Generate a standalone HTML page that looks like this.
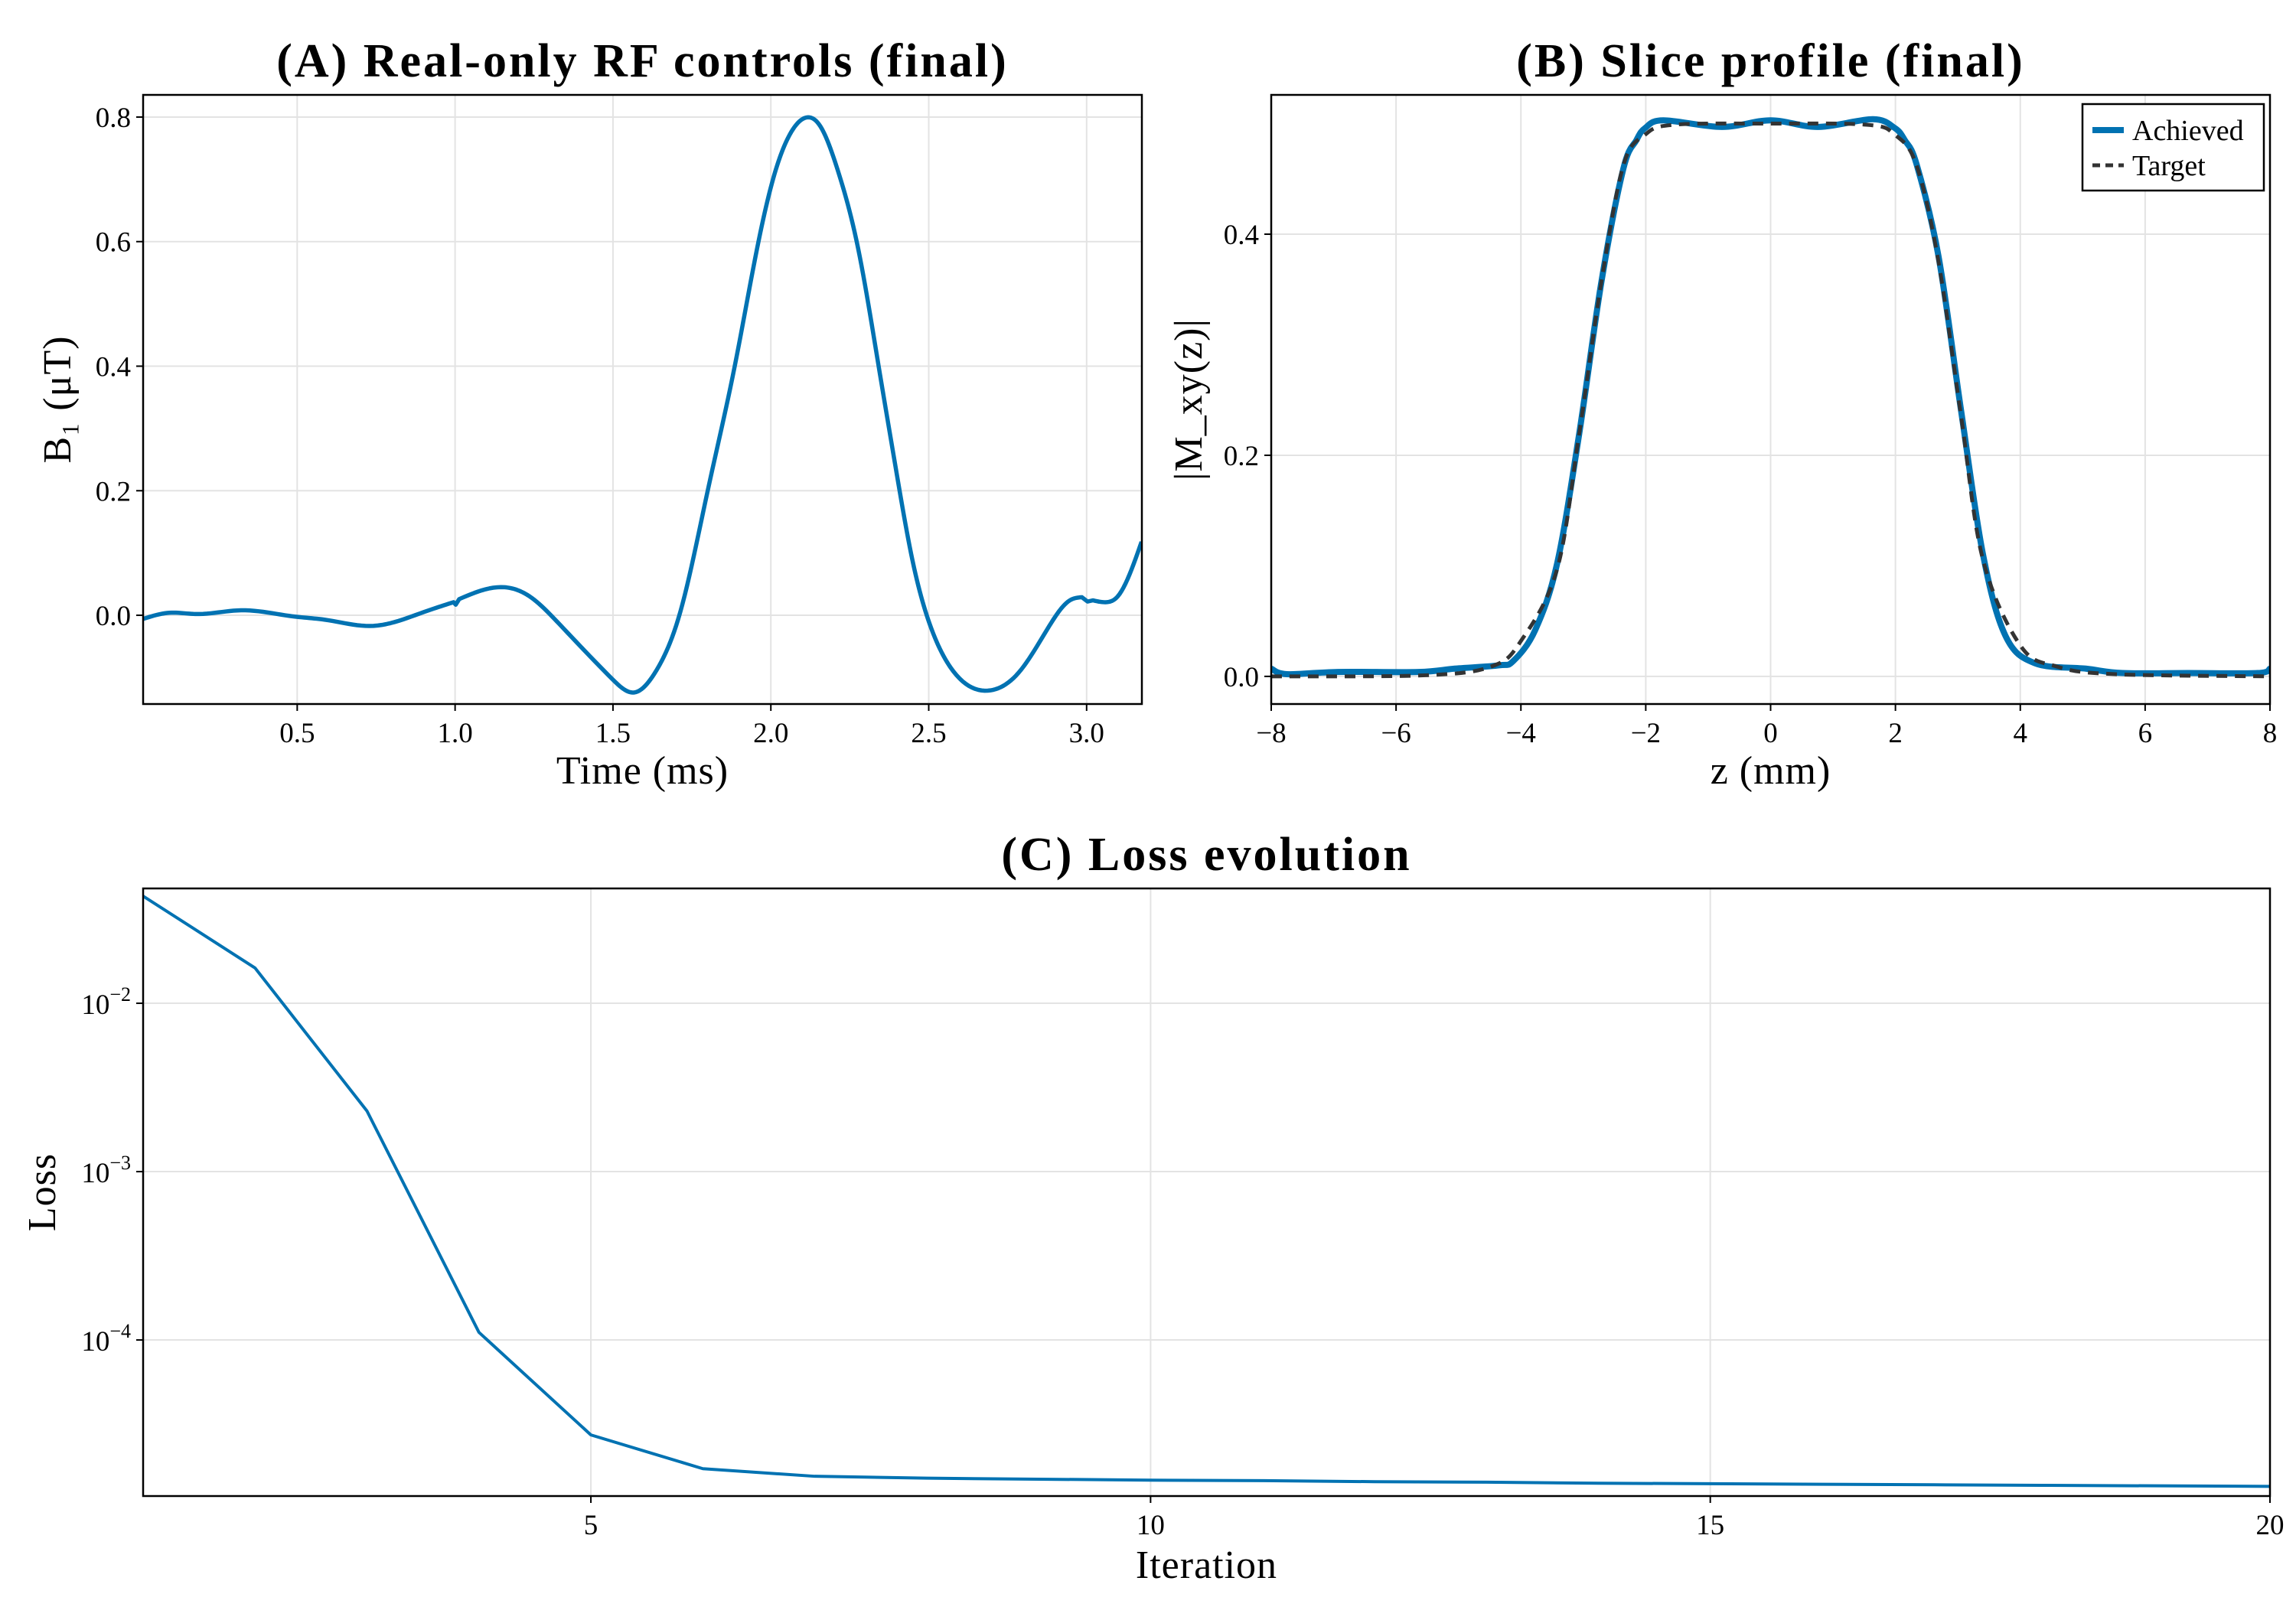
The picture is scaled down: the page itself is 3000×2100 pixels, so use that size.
<!DOCTYPE html>
<html><head><meta charset="utf-8"><style>
html,body{margin:0;padding:0;background:#fff}
svg{display:block}
text{font-family:"Liberation Serif",serif;fill:#000}
</style></head><body>
<svg id="fig" width="3000" height="2100" viewBox="0 0 3000 2100" xmlns="http://www.w3.org/2000/svg"></svg>
<script>
// Panel A data (time ms, B1 uT)
const rfTime=[0.011,0.095,0.178,0.322,0.49,0.586,0.742,0.9,0.995,1.002,1.013,1.157,1.234,1.33,1.497,1.567,1.637,1.713,1.8,1.886,1.962,2.016,2.06,2.11,2.157,2.211,2.276,2.341,2.395,2.449,2.503,2.568,2.687,2.785,2.882,2.947,2.985,3.003,3.02,3.06,3.098,3.174];
const rfB1=[-0.006,0.004,0.002,0.008,-0.002,-0.007,-0.017,0.005,0.021,0.017,0.026,0.045,0.031,-0.014,-0.102,-0.124,-0.089,0.005,0.2,0.401,0.603,0.716,0.772,0.799,0.785,0.716,0.59,0.401,0.238,0.087,-0.014,-0.083,-0.121,-0.092,-0.017,0.024,0.029,0.022,0.024,0.021,0.03,0.118];
const aXTicks=[0.5,1.0,1.5,2.0,2.5,3.0];
const aYTicks=[0.0,0.2,0.4,0.6,0.8];
// Panel B data
const zAch=[-8,-7.75,-6.93,-5.64,-5.06,-4.35,-4.12,-3.77,-3.42,-3.07,-2.71,-2.36,-2.15,-2.01,-1.72,-0.78,0,0.76,1.64,1.99,2.15,2.34,2.69,3.05,3.4,3.76,4.23,5.05,5.64,6.69,7.8,8];
const mAch=[0.007,0.002,0.004,0.004,0.007,0.010,0.014,0.042,0.102,0.218,0.357,0.459,0.485,0.496,0.503,0.497,0.503,0.497,0.504,0.496,0.485,0.463,0.380,0.241,0.111,0.037,0.012,0.007,0.003,0.003,0.003,0.007];
const zTgt=[-8,-5.53,-4.47,-4.0,-3.42,-3.07,-2.71,-2.36,-2.01,-1.54,0,1.54,1.99,2.34,2.69,3.05,3.4,4.0,4.58,5.52,8];
const mTgt=[0,0.001,0.009,0.032,0.097,0.218,0.357,0.462,0.490,0.499,0.5,0.499,0.49,0.462,0.375,0.236,0.106,0.028,0.009,0.002,0];
const bXTicks=[-8,-6,-4,-2,0,2,4,6,8];
const bXLabels=["−8","−6","−4","−2","0","2","4","6","8"];
const bYTicks=[0.0,0.2,0.4];
// Panel C data
const iters=[1,2,3,4,5,6,7,8,9,10,11,12,13,14,15,16,17,18,19,20];
const loss=[0.0433,0.0162,0.00229,1.11e-4,2.73e-5,1.72e-5,1.55e-5,1.51e-5,1.49e-5,1.47e-5,1.46e-5,1.44e-5,1.43e-5,1.41e-5,1.40e-5,1.39e-5,1.38e-5,1.37e-5,1.36e-5,1.35e-5];
const cXTicks=[5,10,15,20];
const cYExp=[-2,-3,-4];

const NS="http://www.w3.org/2000/svg";
const svg=document.getElementById('fig');
function el(tag,attrs,parent,txt){const e=document.createElementNS(NS,tag);for(const k in attrs)e.setAttribute(k,attrs[k]);if(txt!==undefined)e.textContent=txt;(parent||svg).appendChild(e);return e;}
function lin(d0,d1,r0,r1){return v=>r0+(v-d0)/(d1-d0)*(r1-r0);}
function smooth(pts){let d=`M${pts[0][0]},${pts[0][1]}`;for(let i=0;i<pts.length-1;i++){const p0=pts[Math.max(0,i-1)],p1=pts[i],p2=pts[i+1],p3=pts[Math.min(pts.length-1,i+2)];const c1=[p1[0]+(p2[0]-p0[0])/6,p1[1]+(p2[1]-p0[1])/6],c2=[p2[0]-(p3[0]-p1[0])/6,p2[1]-(p3[1]-p1[1])/6];d+=`C${c1[0]},${c1[1]} ${c2[0]},${c2[1]} ${p2[0]},${p2[1]}`;}return d;}
// natural cubic spline through (xs,ys), sampled
function spline(xs,ys,n){const m=xs.length;if(m<3)return xs.map((v,i)=>[v,ys[i]]);
 const h=[],a=[],l=[1],mu=[0],z=[0],c=new Array(m).fill(0);
 for(let i=0;i<m-1;i++)h.push(xs[i+1]-xs[i]);
 for(let i=1;i<m-1;i++){a[i]=3/h[i]*(ys[i+1]-ys[i])-3/h[i-1]*(ys[i]-ys[i-1]);l[i]=2*(xs[i+1]-xs[i-1])-h[i-1]*mu[i-1];mu[i]=h[i]/l[i];z[i]=(a[i]-h[i-1]*z[i-1])/l[i];}
 for(let j=m-2;j>=0;j--){c[j]=(j===0?0:z[j]-mu[j]*c[j+1]);}
 c[0]=0;c[m-1]=0;
 for(let j=m-2;j>=1;j--){c[j]=z[j]-mu[j]*c[j+1];}
 const out=[];
 for(let i=0;i<m-1;i++){const b=(ys[i+1]-ys[i])/h[i]-h[i]*(c[i+1]+2*c[i])/3,d=(c[i+1]-c[i])/(3*h[i]);
  for(let k=0;k<n;k++){const dx=h[i]*k/n;out.push([xs[i]+dx,ys[i]+b*dx+c[i]*dx*dx+d*dx*dx*dx]);}}
 out.push([xs[m-1],ys[m-1]]);return out;}
const TF=37, LF=52, HF=62;

function frame(g,L,T,R,B){
  const f=el('rect',{x:L,y:T,width:R-L,height:B-T,fill:'none',stroke:'#000','stroke-width':2.5},g);
  
  
}
function clip(id,L,T,R,B){const c=el('clipPath',{id:id});el('rect',{x:L,y:T,width:R-L,height:B-T},c);}

// ---------- Panel A ----------
{const L=187,T=124,R=1492,B=920;
const x=lin(0.012,3.175,L,R), y=lin(-0.1425,0.8356,B,T);
const g=el('g',{});
clip('ca',L,T,R,B);
aXTicks.forEach(t=>{const gl=el('line',{x1:x(t),x2:x(t),y1:T,y2:B,stroke:'#e3e3e3','stroke-width':2},g);
 el('line',{x1:x(t),x2:x(t),y1:B,y2:B+9,stroke:'#000','stroke-width':2},g);
 const tl=el('text',{x:x(t),y:B+50,'font-size':TF,'text-anchor':'middle'},g,t.toFixed(1));});
aYTicks.forEach(v=>{const gl=el('line',{x1:L,x2:R,y1:y(v),y2:y(v),stroke:'#e3e3e3','stroke-width':2},g);
 el('line',{x1:L-9,x2:L,y1:y(v),y2:y(v),stroke:'#000','stroke-width':2},g);
 const tl=el('text',{x:L-16,y:y(v)+13,'font-size':TF,'text-anchor':'end'},g,v.toFixed(1));});
// split into segments where samples are very close (small glitches), spline each
let segs=[[0]];
for(let i=1;i<rfTime.length;i++){if(rfTime[i]-rfTime[i-1]<0.02)segs.push([i]);else segs[segs.length-1].push(i);}
let pts=[];
segs.forEach(s=>{const sp=spline(s.map(i=>rfTime[i]),s.map(i=>rfB1[i]),12);pts=pts.concat(sp);});
const d='M'+pts.map(p=>`${x(p[0]).toFixed(2)},${y(p[1]).toFixed(2)}`).join('L');
const p=el('path',{d:d,fill:'none',stroke:'#0072b2','stroke-width':5.5,'stroke-linejoin':'round','clip-path':'url(#ca)'},g);

frame(g,L,T,R,B);
const ti=el('text',{x:(L+R)/2,y:100,'font-size':HF,'font-weight':'bold','text-anchor':'middle','letter-spacing':3},g,'(A) Real-only RF controls (final)');
const xl=el('text',{x:(L+R)/2,y:1024,'font-size':LF,'text-anchor':'middle','letter-spacing':1},g,'Time (ms)');
const yl=el('text',{x:0,y:0,'font-size':LF,'text-anchor':'middle','letter-spacing':1,transform:`translate(92,${(T+B)/2}) rotate(-90)`},g,'B₁ (μT)');
}

// ---------- Panel B ----------
{const L=1661,T=124,R=2966,B=920;
const x=lin(-8,8,L,R), y=lin(-0.025,0.526,B,T);
const g=el('g',{});
clip('cb',L,T,R,B);
bXTicks.forEach((t,i)=>{const gl=el('line',{x1:x(t),x2:x(t),y1:T,y2:B,stroke:'#e3e3e3','stroke-width':2},g);
 el('line',{x1:x(t),x2:x(t),y1:B,y2:B+9,stroke:'#000','stroke-width':2},g);
 const tl=el('text',{x:x(t),y:B+50,'font-size':TF,'text-anchor':'middle'},g,bXLabels[i]);});
bYTicks.forEach(v=>{const gl=el('line',{x1:L,x2:R,y1:y(v),y2:y(v),stroke:'#e3e3e3','stroke-width':2},g);
 el('line',{x1:L-9,x2:L,y1:y(v),y2:y(v),stroke:'#000','stroke-width':2},g);
 const tl=el('text',{x:L-16,y:y(v)+13,'font-size':TF,'text-anchor':'end'},g,v.toFixed(1));});
const pa=el('path',{d:smooth(zAch.map((z,i)=>[x(z),y(mAch[i])])),fill:'none',stroke:'#0072b2','stroke-width':8,'stroke-linejoin':'round','clip-path':'url(#cb)'},g);

const pt=el('path',{d:smooth(zTgt.map((z,i)=>[x(z),y(mTgt[i])])),fill:'none',stroke:'#333','stroke-width':5,'stroke-dasharray':'14 10','clip-path':'url(#cb)'},g);

frame(g,L,T,R,B);
const lg=el('g',{},g);
el('rect',{x:2721,y:136,width:237,height:113,fill:'#fff',stroke:'#000','stroke-width':2.5},lg);
const e1=el('g',{},lg);
el('line',{x1:2734,x2:2775,y1:170,y2:170,stroke:'#0072b2','stroke-width':8},e1);
el('text',{x:2786,y:183,'font-size':38},e1,'Achieved');
const e2=el('g',{},lg);
el('line',{x1:2734,x2:2775,y1:216,y2:216,stroke:'#333','stroke-width':5,'stroke-dasharray':'10 7'},e2);
el('text',{x:2786,y:229,'font-size':38},e2,'Target');
const ti=el('text',{x:(L+R)/2,y:100,'font-size':HF,'font-weight':'bold','text-anchor':'middle','letter-spacing':3},g,'(B) Slice profile (final)');
const xl=el('text',{x:(L+R)/2,y:1024,'font-size':LF,'text-anchor':'middle','letter-spacing':1},g,'z (mm)');
const yl=el('text',{x:0,y:0,'font-size':LF,'text-anchor':'middle','letter-spacing':1,transform:`translate(1570,${(T+B)/2}) rotate(-90)`},g,'|M_xy(z)|');
}

// ---------- Panel C ----------
{const L=187,T=1161,R=2966,B=1955;
const x=lin(1,20,L,R), ly=lin(-4.927,-1.318,B,T), y=v=>ly(Math.log10(v));
const g=el('g',{});
clip('cc',L,T,R,B);
cXTicks.forEach(t=>{const gl=el('line',{x1:x(t),x2:x(t),y1:T,y2:B,stroke:'#e3e3e3','stroke-width':2},g);
 el('line',{x1:x(t),x2:x(t),y1:B,y2:B+9,stroke:'#000','stroke-width':2},g);
 const tl=el('text',{x:x(t),y:B+50,'font-size':TF,'text-anchor':'middle'},g,String(t));});
cYExp.forEach(e=>{const yy=ly(e);const gl=el('line',{x1:L,x2:R,y1:yy,y2:yy,stroke:'#e3e3e3','stroke-width':2},g);
 el('line',{x1:L-9,x2:L,y1:yy,y2:yy,stroke:'#000','stroke-width':2},g);
 const tl=el('text',{x:L-16,y:yy+14,'font-size':TF,'text-anchor':'end'},g);
 el('tspan',{},tl,'10');el('tspan',{dy:-17,'font-size':26},tl,'−'+(-e));});
const p=el('polyline',{points:iters.map((t,i)=>`${x(t)},${y(loss[i])}`).join(' '),fill:'none',stroke:'#0072b2','stroke-width':4,'stroke-linejoin':'round','clip-path':'url(#cc)'},g);

frame(g,L,T,R,B);
const ti=el('text',{x:(L+R)/2,y:1137,'font-size':HF,'font-weight':'bold','text-anchor':'middle','letter-spacing':3},g,'(C) Loss evolution');
const xl=el('text',{x:(L+R)/2,y:2062,'font-size':LF,'text-anchor':'middle','letter-spacing':1},g,'Iteration');
const yl=el('text',{x:0,y:0,'font-size':LF,'text-anchor':'middle','letter-spacing':1,transform:`translate(72,${(T+B)/2}) rotate(-90)`},g,'Loss');
}
</script>
</body></html>
